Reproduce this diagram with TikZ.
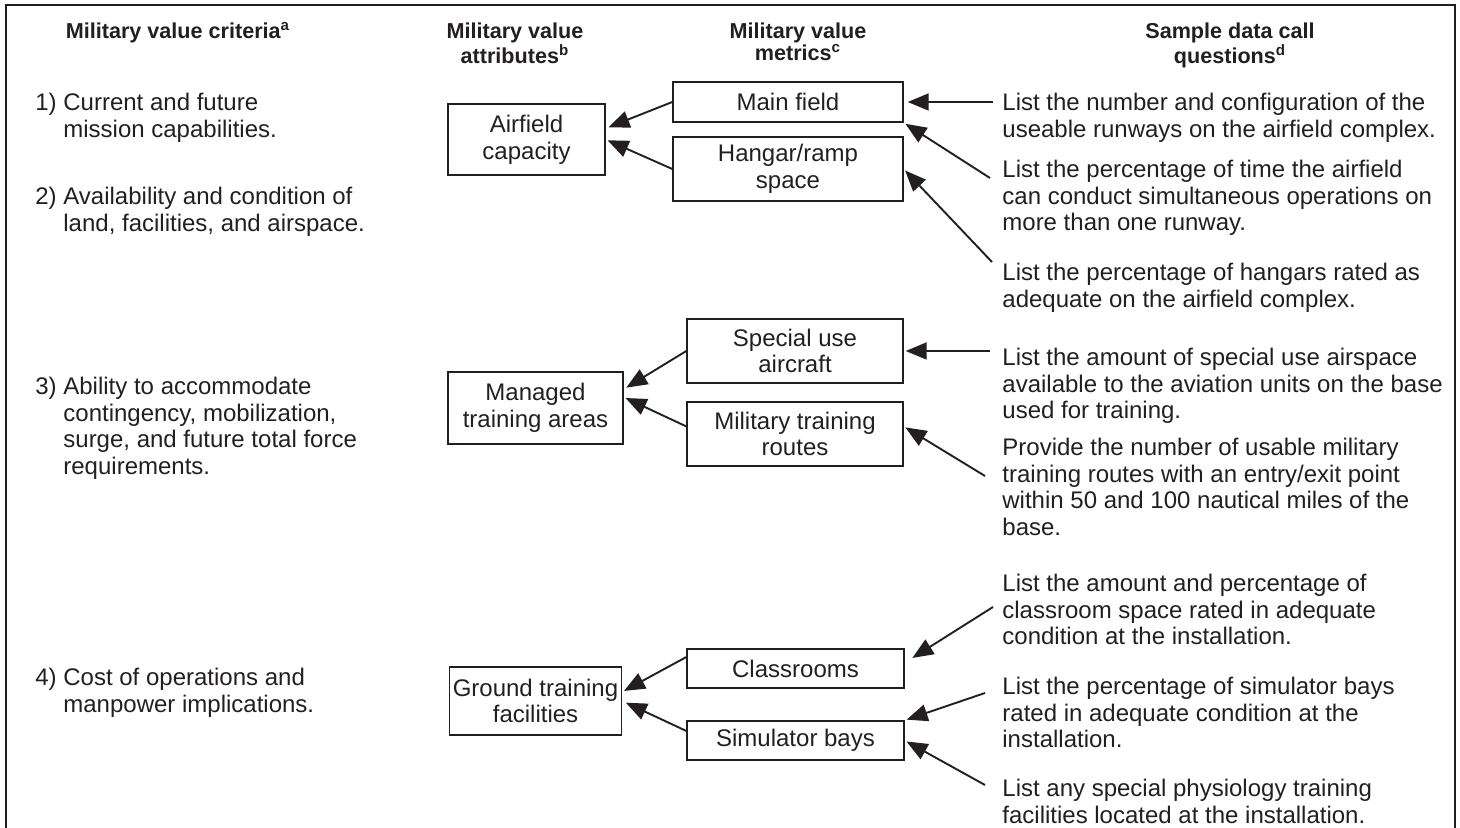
\documentclass[tikz,border=0pt]{standalone}
\usepackage{fontspec}
\setmainfont{Liberation Sans}
\usetikzlibrary{arrows.meta}
\definecolor{ink}{RGB}{35,31,32}
\newcommand{\ind}{\phantom{1)\ }}

\begin{document}
\begin{tikzpicture}[x=0.5pt,y=-0.5pt,
  every node/.style={text=ink, font=\fontsize{12}{13.3}\selectfont},
  head/.style={anchor=north, align=center, inner sep=0pt, execute at begin node=\strut,
    font=\bfseries\fontsize{10.8}{11}\selectfont},
  txt/.style={anchor=north west, align=left, inner sep=0pt, execute at begin node=\strut},
  box/.style={draw=ink, line width=0.7pt, align=center, inner sep=0pt},
  arr/.style={draw=ink, line width=0.95pt, -{Triangle[length=10.5pt,width=8.5pt]}}]
  \useasboundingbox (0,0) rectangle (1460,828);

  % Draw the open frame
  \draw[ink, line width=0.9pt] (6,828) -- (6,5) -- (1455,5) -- (1455,828);

  % Column headers
  \node[head] (hcrit) at (178,22) {Military value criteria\textsuperscript{a}};
  \node[head] (hattr) at (515,22) {Military value\\attributes\textsuperscript{b}};
  \node[head] (hmet) at (798,22) {Military value\\metrics\textsuperscript{c}};
  \node[head] (hques) at (1230,22) {Sample data call\\questions\textsuperscript{d}};

  % Criteria
  \node[txt] (crit1) at (35,93) {1) Current and future\\\ind mission capabilities.};
  \node[txt] (crit2) at (35,187) {2) Availability and condition of\\\ind land, facilities, and airspace.};
  \node[txt] (crit3) at (35,377) {3) Ability to accommodate\\\ind contingency, mobilization,\\\ind surge, and future total force\\\ind requirements.};
  \node[txt] (crit4) at (35,668) {4) Cost of operations and\\\ind manpower implications.};

  % Attributes
  \node[box, minimum width=78.5pt, minimum height=35.5pt] (afc) at (526.5,139.5) {Airfield\\capacity};
  \node[box, minimum width=87.5pt, minimum height=36pt] (mta) at (535.5,408) {Managed\\training areas};
  \node[box, minimum width=86pt, minimum height=34pt] (gtf) at (535.5,701) {Ground training\\facilities};

  % Metrics
  \node[box, minimum width=115pt, minimum height=20pt] (mainf) at (788,102) {Main field};
  \node[box, minimum width=115pt, minimum height=32pt] (hangar) at (788,169) {Hangar/ramp\\space};
  \node[box, minimum width=108pt, minimum height=32pt] (sua) at (795,351) {Special use\\aircraft};
  \node[box, minimum width=108pt, minimum height=32pt] (mtr) at (795,434) {Military training\\routes};
  \node[box, minimum width=108.5pt, minimum height=19.5pt] (cls) at (795.5,668.5) {Classrooms};
  \node[box, minimum width=108.5pt, minimum height=19.5pt] (sim) at (795.5,740.5) {Simulator bays};

  % Data call questions
  \node[txt] (q1) at (1002,93) {List the number and configuration of the\\useable runways on the airfield complex.};
  \node[txt] (q2) at (1002,160) {List the percentage of time the airfield\\can conduct simultaneous operations on\\more than one runway.};
  \node[txt] (q3) at (1002,263) {List the percentage of hangars rated as\\adequate on the airfield complex.};
  \node[txt] (q4) at (1002,348) {List the amount of special use airspace\\available to the aviation units on the base\\used for training.};
  \node[txt] (q5) at (1002,438) {Provide the number of usable military\\training routes with an entry/exit point\\within 50 and 100 nautical miles of the\\base.};
  \node[txt] (q6) at (1002,574) {List the amount and percentage of\\classroom space rated in adequate\\condition at the installation.};
  \node[txt] (q7) at (1002,677) {List the percentage of simulator bays\\rated in adequate condition at the\\installation.};
  \node[txt] (q8) at (1002,779) {List any special physiology training\\facilities located at the installation.};

  % Free ends of the question arrows
  \coordinate (q1s) at (993,102);
  \coordinate (q2s) at (990,178);
  \coordinate (q3s) at (992,262);
  \coordinate (q4s) at (990,351);
  \coordinate (q5s) at (985,476);
  \coordinate (q6s) at (993,607);
  \coordinate (q7s) at (985,693);
  \coordinate (q8s) at (985,785);

  % Metrics to attributes
  \draw[arr, shorten >=1.5pt] (mainf.west) -- (afc.8);
  \draw[arr, shorten >=1pt] (hangar.west) -- (afc.east);
  \draw[arr, shorten >=1.5pt] (sua.west) -- (mta.12);
  \draw[arr, shorten >=1pt] (mtr.176) -- (mta.7);
  \draw[arr, shorten >=1pt] (cls.174) -- (gtf.6);
  \draw[arr, shorten >=2pt] (sim.175) -- (gtf.east);

  % Questions to metrics
  \draw[arr, shorten >=2pt] (q1s) -- (mainf.east);
  \draw[arr, shorten >=1pt] (q2s) -- (mainf.south east);
  \draw[arr, shorten >=1pt] (q3s) -- (hangar.east);
  \draw[arr, shorten >=1pt] (q4s) -- (sua.east);
  \draw[arr, shorten >=1pt] (q5s) -- (mtr.4);
  \draw[arr, shorten >=4.5pt] (q6s) -- (cls.3);
  \draw[arr, shorten >=1pt] (q7s) -- (sim.north east);
  \draw[arr, shorten >=1pt] (q8s) -- (sim.east);
\end{tikzpicture}
\end{document}
